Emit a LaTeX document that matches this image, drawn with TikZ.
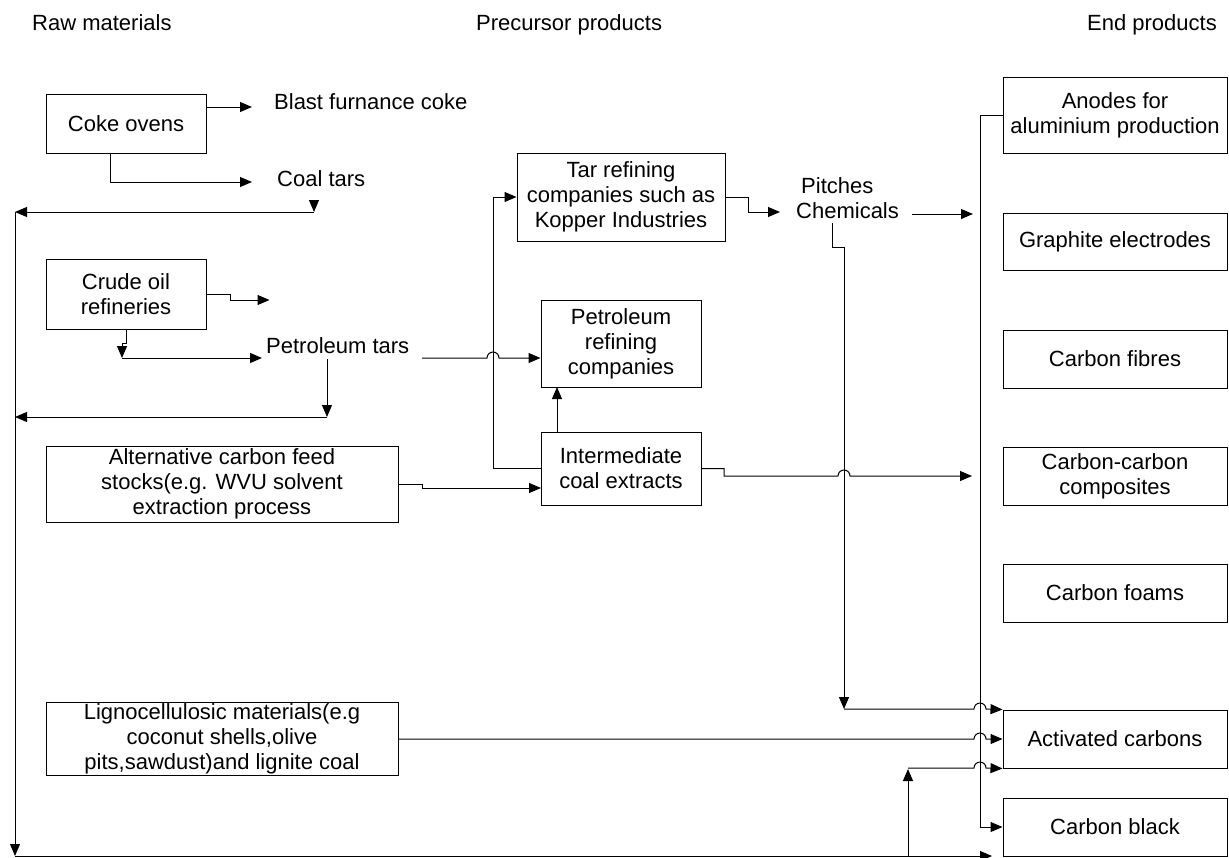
\documentclass[tikz,border=0pt]{standalone}
\usepackage{fontspec}
\setmainfont{Liberation Sans}
\usetikzlibrary{arrows.meta}
\begin{document}
\begin{tikzpicture}[x=1pt,y=-1pt,
  every node/.style={font=\fontsize{22}{25}\selectfont, inner sep=0pt},
  box/.style={draw, line width=1pt, align=center},
  ln/.style={line width=1pt},
  arr/.style={ln,-{Triangle[length=12pt,width=10pt]}}]
\useasboundingbox (0,0) rectangle (1229,857);

% headings
\node[anchor=base west] (h1) at (32,30) {Raw materials};
\node[anchor=base west] (h2) at (476,30) {Precursor products};
\node[anchor=base] (h3) at (1152,30) {End products};

% left boxes
\node[box, minimum width=160pt, minimum height=59pt] (coke) at (126,123.5) {Coke ovens};
\node[box, minimum width=160pt, minimum height=70pt] (crude) at (126,294) {Crude oil\\refineries};
\node[box, minimum width=352pt, minimum height=76pt] (alt) at (222,484) {Alternative carbon feed\\stocks(e.g. WVU solvent\\extraction process};
\node[box, minimum width=352pt, minimum height=73pt] (ligno) at (222,739) {Lignocellulosic materials(e.g\\coconut shells,olive\\pits,sawdust)and lignite coal};

% middle boxes
\node[box, minimum width=208pt, minimum height=88pt] (tar) at (621,197) {Tar refining\\companies such as\\Kopper Industries};
\node[box, minimum width=160pt, minimum height=87pt] (petref) at (621,343.5) {Petroleum\\refining\\companies};
\node[box, minimum width=160pt, minimum height=73pt] (inter) at (621,468.5) {Intermediate\\coal extracts};

% right boxes
\node[box, minimum width=224pt, minimum height=76pt] (anodes) at (1115,115) {Anodes for\\aluminium production};
\node[box, minimum width=224pt, minimum height=57pt] (graphite) at (1115,241.5) {Graphite electrodes};
\node[box, minimum width=224pt, minimum height=58pt] (fibres) at (1115,359) {Carbon fibres};
\node[box, minimum width=224pt, minimum height=58pt] (composites) at (1115,476) {Carbon-carbon\\composites};
\node[box, minimum width=224pt, minimum height=58pt] (foams) at (1115,593) {Carbon foams};
\node[box, minimum width=224pt, minimum height=58pt] (activated) at (1115,739) {Activated carbons};
\node[box, minimum width=224pt, minimum height=58pt] (black) at (1115,827) {Carbon black};

% free texts
\node[anchor=base west] (blast) at (274,109) {Blast furnance coke};
\node[anchor=base west] (coaltar) at (277,186) {Coal tars};
\node[anchor=base west] (pettar) at (266,353) {Petroleum tars};
\node[anchor=north west, align=left] (pitch) at (796,177) {\hspace{5pt}Pitches\\Chemicals};

% coordinates
\coordinate (b1) at (252,107);
\coordinate (c1) at (110,182);
\coordinate (c2) at (252,182);
\coordinate (d1) at (314,200);
\coordinate (d2) at (314,212);
\coordinate (L1) at (15,212);
\coordinate (L2) at (15,417);
\coordinate (L3) at (15,856);
\coordinate (R3) at (992,856);
\coordinate (e1) at (122,358);
\coordinate (e2) at (262,358);
\coordinate (p1) at (327,359);
\coordinate (p2) at (327,417);
\coordinate (u1) at (908,856);
\coordinate (u2) at (908,768);

% connectors
\draw[arr] (coke.east |- b1) -- (b1);
\draw[arr] (coke.south -| c1) -- (c1) -- (c2);
\draw[arr] (d1) -- (d2);
\draw[arr] (d2) -- (L1);
\draw[arr] (L1) -- (L3);
\draw[arr] (L3) -- (R3);

\draw[arr] (crude.east) -- ++(24,0) -- ++(0,6) -- ++(39,0);
\draw[arr] (crude.south) -- ++(0,14) -- ++(-4,0) -- (e1);
\draw[arr] (e1) -- (e2);
\draw[arr] (p1) -- (p2);
\draw[arr] (p2) -- (L2);

\draw[arr] (422,358) -- (487,358) arc[start angle=180,end angle=0,radius=6pt] -- (petref.west |- e1);
\draw[arr] (alt.east) -- (422,484) -- (422,488) -- (541,488);
\draw[arr] (inter.west) -- (493,468.5) -- (493,197) -- (tar.west);
\draw[arr] (557,432) -- (557,387);
\draw[arr] (inter.east) -- (724,468.5) -- (724,476) -- (838,476) arc[start angle=180,end angle=0,radius=6pt] -- (972,476);

\draw[arr] (tar.east) -- (748,197) -- (748,212) -- (780,212);
\draw[arr] (912,214) -- (973,214);
\draw[arr] (832,223) -- (832,247) -- (844,247) -- (844,709);
\draw[arr] (844,709) -- (974,709) arc[start angle=180,end angle=0,radius=6pt] -- (activated.north west);
\draw[arr] (ligno.east) -- (974,739) arc[start angle=180,end angle=0,radius=6pt] -- (activated.west);
\draw[arr] (u1) -- (908,769);
\draw[arr] (u2) -- (974,768) arc[start angle=180,end angle=0,radius=6pt] -- (activated.south west);
\draw[arr] (anodes.west) -- (980,115) -- (980,827) -- (black.west);
\end{tikzpicture}
\end{document}
